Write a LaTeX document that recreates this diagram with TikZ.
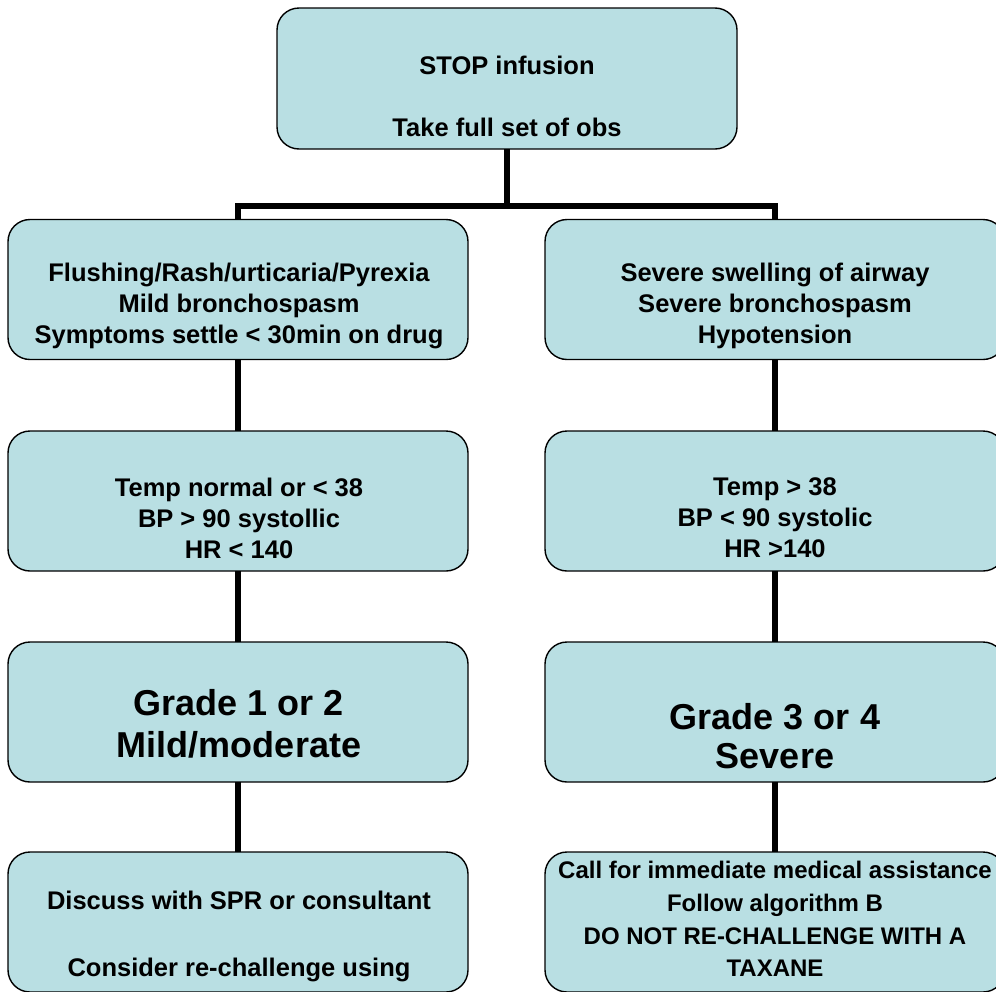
\documentclass[tikz,border=0pt]{standalone}
\usepackage{fontspec}
\setmainfont{Liberation Sans}
\definecolor{boxfill}{RGB}{185,223,227}
\begin{document}
\begin{tikzpicture}[x=1pt,y=-1pt,
  box/.style={draw=black, line width=1.4pt, fill=boxfill, rounded corners=22pt,
    minimum width=460pt, minimum height=140pt, inner sep=0pt, outer sep=0pt},
  txt/.style={align=center, font=\bfseries\fontsize{25.5}{31}\selectfont, inner sep=0pt},
  big/.style={align=center, font=\bfseries\fontsize{36}{42}\selectfont, inner sep=0pt},
  small/.style={align=center, font=\bfseries\fontsize{24}{32.7}\selectfont, inner sep=0pt},
  link/.style={line width=5.5pt}]
\useasboundingbox (0,0) rectangle (996,991);

% boxes
\node[box, minimum height=141pt] (b0) at (507,78.5) {};
\node[box] (L1) at (238,289.5) {};
\node[box] (R1) at (775,289.5) {};
\node[box] (L2) at (238,501) {};
\node[box] (R2) at (775,501) {};
\node[box] (L3) at (238,712) {};
\node[box] (R3) at (775,712) {};
\node[box] (L4) at (238,922) {};
\node[box] (R4) at (775,922) {};

% connectors
\coordinate (bar) at (507,206);
\draw[link] (b0.south) -- (bar);
\draw[link] (L1.north) |- (bar) -| (R1.north);
\draw[link] (L1.south) -- (L2.north);
\draw[link] (L2.south) -- (L3.north);
\draw[link] (L3.south) -- (L4.north);
\draw[link] (R1.south) -- (R2.north);
\draw[link] (R2.south) -- (R3.north);
\draw[link] (R3.south) -- (R4.north);

% texts
\node[txt] (t0) at (507,96) {STOP infusion\\[31pt]Take full set of obs};
\node[txt] (tL1) at (239,306) {Flushing/Rash/urticaria/Pyrexia\\Mild bronchospasm\\Symptoms settle < 30min on drug};
\node[txt] (tR1) at (775,306) {Severe swelling of airway\\Severe bronchospasm\\Hypotension};
\node[txt] (tL2) at (239,518) {Temp normal or < 38\\BP > 90 systollic\\HR < 140};
\node[txt] (tR2) at (775,518) {Temp > 38\\BP < 90 systolic\\HR >140};
\node[big] (tL3) at (239,724) {Grade 1 or 2\\Mild/moderate};
\node[big, font=\bfseries\fontsize{36}{39}\selectfont] (tR3) at (775,736) {Grade 3 or 4\\Severe};
\node[txt] (tL4) at (239,936.5) {Discuss with SPR or consultant\\[36pt]Consider re-challenge using};
\node[small] (tR4) at (775,919) {Call for immediate medical assistance\\Follow algorithm B\\DO NOT RE-CHALLENGE WITH A\\TAXANE};
\end{tikzpicture}
\end{document}
